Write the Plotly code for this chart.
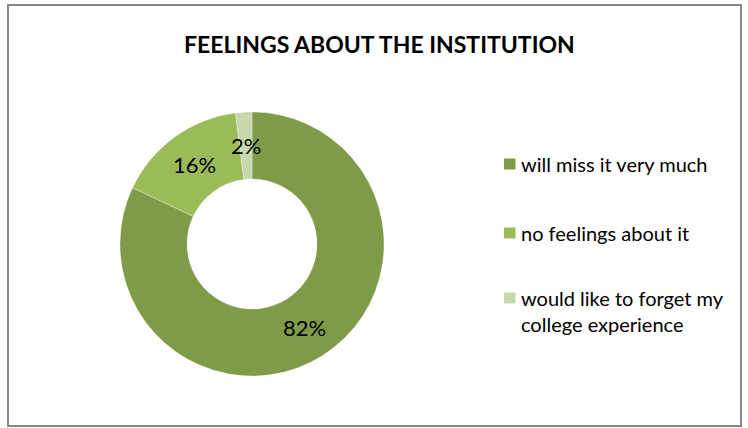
import math
import plotly.graph_objects as go

labels = ["will miss it very much", "no feelings about it", "would like to forget my<br>college experience"]
values = [82, 16, 2]
colors = ["#7F9B48", "#9BBB59", "#C8D8AE"]
title = "FEELINGS ABOUT THE INSTITUTION"

W, H = 748, 428
cx, cy = 252, 244
r_out, r_in = 132, 65
FONT = "Lato"

fig = go.Figure(go.Pie(
    labels=labels, values=values, hole=r_in / r_out, sort=False, direction="clockwise",
    rotation=0, marker=dict(colors=colors, line=dict(color="rgba(255,255,255,0.6)", width=0.5)),
    textinfo="none", hoverinfo="label+percent", showlegend=False,
    domain=dict(x=[(cx - r_out) / W, (cx + r_out) / W], y=[1 - (cy + r_out) / H, 1 - (cy - r_out) / H]),
))

annotations = []
total = sum(values)
cum = 0
r_lab = (r_in + r_out) / 2
for v in values:
    mid = (cum + v / 2) / total * 2 * math.pi
    cum += v
    px = cx + r_lab * math.sin(mid)
    py = cy - r_lab * math.cos(mid)
    annotations.append(dict(x=px / W, y=1 - py / H, xref="paper", yref="paper",
                            xanchor="center", yanchor="middle",
                            text=f"{round(v / total * 100)}%", showarrow=False,
                            font=dict(family=FONT, size=22, color="#000")))

annotations.append(dict(x=379 / W, y=1 - 44 / H, xref="paper", yref="paper", text=f"<b>{title}</b>",
                        xanchor="center", yanchor="middle",
                        showarrow=False, font=dict(family=FONT, size=23, color="#000")))

shapes = [dict(type="rect", xref="paper", yref="paper", x0=8 / W, x1=741 / W, y0=1 - 426 / H, y1=1 - 5 / H,
               line=dict(color="#868686", width=2), fillcolor="rgba(0,0,0,0)")]

legend_y = [164, 233, 298]
for lab, col, ly in zip(labels, colors, legend_y):
    shapes.append(dict(type="rect", xref="paper", yref="paper",
                       x0=504 / W, x1=515.5 / W, y0=1 - (ly + 5.5) / H, y1=1 - (ly - 5.5) / H,
                       line=dict(width=0), fillcolor=col))
    annotations.append(dict(x=519 / W, y=1 - (ly - 14) / H, xref="paper", yref="paper", text=lab,
                            showarrow=False, xanchor="left", yanchor="top", align="left",
                            font=dict(family=FONT, size=20, color="#000")))

fig.update_layout(width=W, height=H, margin=dict(l=0, r=0, t=0, b=0),
                  paper_bgcolor="white", plot_bgcolor="white",
                  annotations=annotations, shapes=shapes)
fig.write_html("out.html", config={"displayModeBar": False},
               post_script="document.body.style.margin='0px';document.body.style.padding='0px';")
